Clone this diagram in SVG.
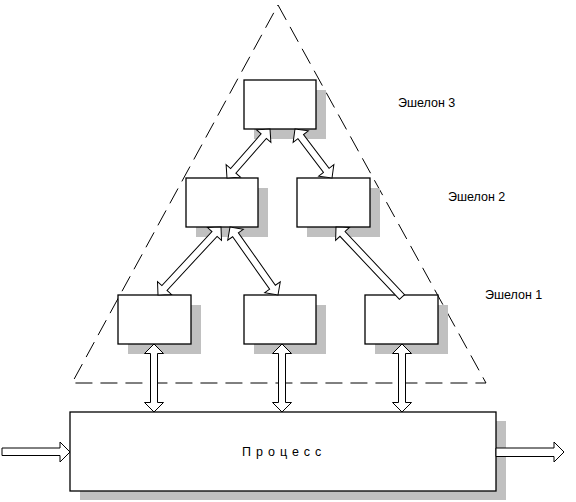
<svg xmlns="http://www.w3.org/2000/svg" width="576" height="502" viewBox="0 0 576 502">
<defs>
<style>
.shadow{fill:#c0c0c0;stroke:none}
.box{fill:#fff;stroke:#000;stroke-width:1.3}
.arr{fill:#fff;stroke:#000;stroke-width:1}
.tri{fill:none;stroke:#000;stroke-width:1;stroke-dasharray:17 8}
.lbl{font-family:"Liberation Sans",Arial,sans-serif;font-size:12.5px;fill:#000}
</style>
</defs>
<rect width="576" height="502" fill="#fff"/>
<g id="triangle">
<polygon class="tri" points="278,5 486,383 72,383"/>
</g>
<g id="n3"><rect class="shadow" x="254" y="90" width="72" height="49"/><rect class="box" x="244" y="80" width="72" height="49"/></g>
<g id="n2a"><rect class="shadow" x="196" y="188" width="72" height="49"/><rect class="box" x="186" y="178" width="72" height="49"/></g>
<g id="n2b"><rect class="shadow" x="307" y="188" width="73" height="49"/><rect class="box" x="297" y="178" width="73" height="49"/></g>
<g id="n1a"><rect class="shadow" x="128" y="305" width="73" height="49"/><rect class="box" x="118" y="295" width="73" height="49"/></g>
<g id="n1b"><rect class="shadow" x="254" y="305" width="72" height="49"/><rect class="box" x="244" y="295" width="72" height="49"/></g>
<g id="n1c"><rect class="shadow" x="375" y="305" width="73" height="49"/><rect class="box" x="365" y="295" width="73" height="49"/></g>
<g id="process"><rect class="shadow" x="80" y="421" width="426" height="79"/><rect class="box" x="70" y="412" width="426" height="79"/>
<text class="lbl" x="242" y="456" letter-spacing="5">Процесс</text></g>
<g id="labels">
<text class="lbl" x="398" y="107">Эшелон 3</text>
<text class="lbl" x="448" y="201">Эшелон 2</text>
<text class="lbl" x="485" y="299">Эшелон 1</text>
</g>
<g id="connectors">
<polygon class="arr" transform="translate(248.5,153.5) rotate(131.3)" points="-32.6,0 -23.1,-9.5 -23.1,-3.5 23.1,-3.5 23.1,-9.5 32.6,0 23.1,9.5 23.1,3.5 -23.1,3.5 -23.1,9.5"/>
<polygon class="arr" transform="translate(313.5,153.5) rotate(52.9)" points="-30.7,0 -21.2,-9.5 -21.2,-3.5 21.2,-3.5 21.2,-9.5 30.7,0 21.2,9.5 21.2,3.5 -21.2,3.5 -21.2,9.5"/>
<polygon class="arr" transform="translate(189.5,261) rotate(132.8)" points="-46.35,0 -36.85,-9.5 -36.85,-3.5 36.85,-3.5 36.85,-9.5 46.35,0 36.85,9.5 36.85,3.5 -36.85,3.5 -36.85,9.5"/>
<polygon class="arr" transform="translate(254,261) rotate(54.8)" points="-41.6,0 -32.1,-9.5 -32.1,-3.5 32.1,-3.5 32.1,-9.5 41.6,0 32.1,9.5 32.1,3.5 -32.1,3.5 -32.1,9.5"/>
<polygon class="arr" transform="translate(369,262) rotate(226.7)" points="-48.1,-3.5 38.6,-3.5 38.6,-9.5 48.1,0 38.6,9.5 38.6,3.5 -48.1,3.5"/>
<polygon class="arr" transform="translate(154,378) rotate(90)" points="-34,0 -24.5,-9.5 -24.5,-3.5 24.5,-3.5 24.5,-9.5 34,0 24.5,9.5 24.5,3.5 -24.5,3.5 -24.5,9.5"/>
<polygon class="arr" transform="translate(282,378) rotate(90)" points="-34,0 -24.5,-9.5 -24.5,-3.5 24.5,-3.5 24.5,-9.5 34,0 24.5,9.5 24.5,3.5 -24.5,3.5 -24.5,9.5"/>
<polygon class="arr" transform="translate(402,378) rotate(90)" points="-34,0 -24.5,-9.5 -24.5,-3.5 24.5,-3.5 24.5,-9.5 34,0 24.5,9.5 24.5,3.5 -24.5,3.5 -24.5,9.5"/>
<polygon class="arr" points="2,448 60,448 60,442 70,452 60,462 60,455.5 2,455.5 2,448"/>
<polygon class="arr" points="496,448 554,448 554,442 564,452 554,462 554,456.5 496,456.5"/>
</g>
</svg>
